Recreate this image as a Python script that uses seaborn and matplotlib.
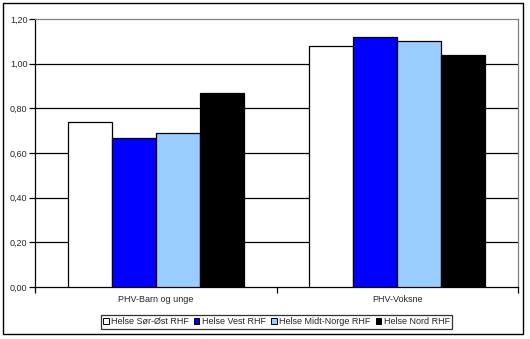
import matplotlib
matplotlib.use("Agg")
import matplotlib.pyplot as plt
from matplotlib.patches import Rectangle
from matplotlib.ticker import FuncFormatter, FixedLocator
import seaborn as sns
import pandas as pd

# Data
categories = ["PHV-Barn og unge", "PHV-Voksne"]
regions = ["Helse Sør-Øst RHF", "Helse Vest RHF", "Helse Midt-Norge RHF", "Helse Nord RHF"]
sor_ost = [0.74, 1.08]
vest = [0.665, 1.12]
midt_norge = [0.69, 1.10]
nord = [0.87, 1.04]
colors = ["#FFFFFF", "#0000FF", "#99CCFF", "#000000"]

series = [sor_ost, vest, midt_norge, nord]
rows = []
for reg, vals in zip(regions, series):
    for cat, v in zip(categories, vals):
        rows.append({"Kategori": cat, "Region": reg, "Verdi": v})
df = pd.DataFrame(rows)

sns.set_theme(style="white")
plt.rcParams["font.family"] = ["Liberation Sans", "DejaVu Sans"]
plt.rcParams["font.size"] = 6.5

W, H = 530, 339
fig = plt.figure(figsize=(W / 100, H / 100), dpi=100)
fig.patch.set_facecolor("white")
ax = fig.add_axes([35 / W, 1 - 287 / H, (518 - 35) / W, (287 - 19) / H])

sns.barplot(data=df, x="Kategori", y="Verdi", hue="Region", hue_order=regions,
            order=categories, palette=colors, width=0.73, edgecolor="black",
            linewidth=0.9, saturation=1, ax=ax, legend=True, zorder=3)

ax.set_xlim(-0.5, 1.5)
ax.set_ylim(0, 1.2)
ax.set_xlabel("")
ax.set_ylabel("")

# Horizontal gridlines
ax.set_yticks([0, 0.2, 0.4, 0.6, 0.8, 1.0, 1.2])
ax.yaxis.set_major_formatter(FuncFormatter(lambda v, p: f"{v:.2f}".replace(".", ",")))
for yv in [0.2, 0.4, 0.6, 0.8, 1.0]:
    ax.axhline(yv, color="black", linewidth=0.9, zorder=1)

ax.tick_params(axis="y", which="major", direction="out", length=4, width=0.9,
               color="black", labelsize=6.5, pad=1.5, left=True)
ax.tick_params(axis="x", which="major", length=0, labelsize=6.5, pad=6)
ax.xaxis.set_minor_locator(FixedLocator([-0.5, 0.5, 1.5]))
ax.tick_params(axis="x", which="minor", direction="out", length=4, width=0.9,
               color="black", bottom=True)

for side in ["left", "bottom"]:
    ax.spines[side].set_color("black")
    ax.spines[side].set_linewidth(0.9)
for side in ["top", "right"]:
    ax.spines[side].set_color("#808080")
    ax.spines[side].set_linewidth(0.9)

# Legend at the bottom
handles, labels = ax.get_legend_handles_labels()
ax.get_legend().remove()
leg = fig.legend(handles, labels, loc="center",
                 bbox_to_anchor=(276.5 / W, 1 - 322 / H), ncol=4,
                 frameon=True, fancybox=False, edgecolor="black",
                 fontsize=6.5, handlelength=0.6, handleheight=0.6,
                 handletextpad=0.3, columnspacing=0.55, borderpad=0.25,
                 borderaxespad=0)
leg.get_frame().set_linewidth(0.9)
for h in leg.legend_handles:
    h.set_edgecolor("black")
    h.set_linewidth(0.7)

# Outer chart border
fig.patches.append(Rectangle((3 / W, 1 - 334 / H), 520 / W, 331 / H,
                             transform=fig.transFigure, fill=False,
                             edgecolor="black", linewidth=1.0))

fig.savefig("out.png", dpi=100)
